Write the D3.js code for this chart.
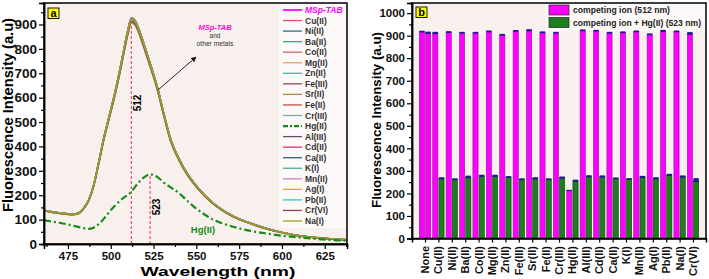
<!DOCTYPE html>
<html>
<head>
<meta charset="utf-8">
<script src="https://cdn.jsdelivr.net/npm/d3@7"></script>
<style>
  body { margin: 0; background: #fff; }
  text { font-family: Arial, "Liberation Sans", sans-serif; }
</style>
</head>
<body>
<script>
"use strict";
// ---- data ----
// panel a: emission spectra
const wavelengths = [461, 465, 470, 475, 478, 481, 484, 487, 490, 493, 496, 499, 502, 505, 508, 510, 512, 514, 516, 520, 523, 527.5, 531, 535, 540, 545, 550, 555, 560, 565, 570, 575, 580, 590, 600, 610, 620, 630, 638]
const probeSpectrum = [138, 132, 127, 123, 122, 126, 145, 178, 240, 335, 435, 520, 605, 700, 805, 872, 920, 912, 884, 802, 737, 633, 532, 427, 346, 284, 237, 198, 166, 140, 119, 102, 89, 65, 47, 34, 26, 20, 17]
const hgSpectrum = [97, 93, 87, 80, 75, 70, 65, 62, 67, 82, 104, 130, 154, 175, 192, 202, 214, 232, 250, 276, 286, 273, 252, 232, 208, 175, 145, 120, 99, 85, 74, 64, 56, 44, 34, 27, 21, 16, 14]
const legendNames = ["MSp-TAB", "Cu(II)", "Ni(II)", "Ba(II)", "Co(II)", "Mg(II)", "Zn(II)", "Fe(III)", "Sr(II)", "Fe(II)", "Cr(III)", "Hg(II)", "Al(III)", "Cd(II)", "Ca(II)", "K(I)", "Mn(II)", "Ag(I)", "Pb(II)", "Cr(VI)", "Na(I)"]
const legendColors = ["#ff00ff", "#e0506a", "#2a6f7f", "#3aa88a", "#d06878", "#d8a860", "#30c0a0", "#a04050", "#a09030", "#c05040", "#80a8b0", "#178a17", "#6a4a6a", "#e0306a", "#306080", "#40b0a0", "#d080c0", "#e0a040", "#30c8c0", "#904050", "#a0a020"]
const peakLines = [512, 523]
const xTicksA = [475, 500, 525, 550, 575, 600, 625]

// panel b: intensity at 512 nm / 523 nm
const ions = ["None", "Cu(II)", "Ni(II)", "Ba(II)", "Co(II)", "Mg(II)", "Zn(II)", "Fe(III)", "Sr(II)", "Fe(II)", "Cr(III)", "Hg(II)", "Al(III)", "Cd(II)", "Ca(II)", "K(I)", "Mn(II)", "Ag(I)", "Pb(II)", "Na(I)", "Cr(VI)"]
const intensity512 = [918, 912, 916, 913, 913, 919, 904, 921, 924, 915, 913, 213, 924, 922, 913, 915, 919, 906, 921, 919, 910]
const error512 = [4, 5, 4, 4, 4, 4, 4, 4, 5, 4, 4, 3, 4, 4, 4, 4, 4, 4, 5, 4, 6]
const intensityHg = [913, 267, 263, 273, 278, 278, 273, 263, 267, 263, 270, 256, 276, 275, 267, 264, 273, 267, 282, 275, 259]
const errorHg = [5, 5, 4, 6, 5, 5, 4, 4, 5, 4, 5, 5, 5, 5, 4, 4, 5, 5, 5, 5, 9]

;(function(){
    const W = 709, H = 279
    const plotBg = "#f7f0ec"
    const svgContainer = d3.select('body').append('svg')
        .attr('width', W)
        .attr('height', H)

    // ---------- panel a ----------
    const a = { left: 44, right: 347, top: 3, bottom: 244 }
    const xA = d3.scaleLinear().domain([461, 638]).range([a.left, a.right])
    const yA = d3.scaleLinear().domain([0, 988]).range([a.bottom, a.top])

    svgContainer.append('rect')
        .attr('x', a.left).attr('y', a.top)
        .attr('width', a.right - a.left).attr('height', a.bottom - a.top)
        .attr('fill', plotBg)

    // legend backdrop
    svgContainer.append('rect')
        .attr('x', 279).attr('y', a.top + 1)
        .attr('width', a.right - 280).attr('height', 224)
        .attr('fill', '#fdf9f8')

    svgContainer.append('clipPath').attr('id', 'clipA')
        .append('rect')
        .attr('x', a.left).attr('y', a.top)
        .attr('width', a.right - a.left).attr('height', a.bottom - a.top)

    const line = d3.line()
        .x((d) => xA(d[0]))
        .y((d) => yA(d[1]))
        .curve(d3.curveMonotoneX)

    const curves = svgContainer.append('g').attr('clip-path', 'url(#clipA)')

    // dashed marker lines at the two emission maxima
    const hgPeak = hgSpectrum[wavelengths.indexOf(523)]
    peakLines.forEach((wl) => {
        const top = wl === 512 ? probeSpectrum[wavelengths.indexOf(512)] : hgPeak
        curves.append('line')
            .attr('x1', xA(wl)).attr('x2', xA(wl))
            .attr('y1', yA(0)).attr('y2', yA(top))
            .attr('stroke', '#e8305a')
            .attr('stroke-width', 1)
            .attr('stroke-dasharray', '3,2')
    })

    // every competing ion: probe spectrum scaled to its 512 nm intensity (panel b)
    legendNames.forEach((name, i) => {
        if (name === "Hg(II)") return
        let factor = 1
        const k = ions.indexOf(name)
        if (k >= 0) factor = intensity512[k] / intensity512[0]
        const pts = wavelengths.map((w, j) => [w, probeSpectrum[j] * factor])
        curves.append('path')
            .attr('d', line(pts))
            .attr('fill', 'none')
            .attr('stroke', legendColors[i])
            .attr('stroke-width', 1.5)
    })

    curves.append('path')
        .attr('d', line(wavelengths.map((w, j) => [w, hgSpectrum[j]])))
        .attr('fill', 'none')
        .attr('stroke', legendColors[legendNames.indexOf("Hg(II)")])
        .attr('stroke-width', 2.2)
        .attr('stroke-dasharray', '7,3,2,3')

    // peak labels
    svgContainer.append('text')
        .attr('transform', `translate(${xA(512) + 10},${103}) rotate(-90)`)
        .attr('text-anchor', 'middle')
        .attr('font-size', 10).attr('font-weight', 'bold')
        .text('512')
    svgContainer.append('text')
        .attr('transform', `translate(${xA(523) + 10},${207}) rotate(-90)`)
        .attr('text-anchor', 'middle')
        .attr('font-size', 10).attr('font-weight', 'bold')
        .text('523')
    svgContainer.append('text')
        .attr('x', 203).attr('y', 233)
        .attr('text-anchor', 'middle')
        .attr('font-size', 9.5).attr('font-weight', 'bold')
        .attr('fill', '#178a17')
        .text('Hg(II)')

    // arrow + note
    svgContainer.append('defs').append('marker')
        .attr('id', 'arrowHead')
        .attr('viewBox', '0 0 10 10')
        .attr('refX', 9).attr('refY', 5)
        .attr('markerWidth', 6).attr('markerHeight', 6)
        .attr('orient', 'auto')
        .append('path')
        .attr('d', 'M0,0 L10,5 L0,10 z')
        .attr('fill', '#111')
    svgContainer.append('line')
        .attr('x1', 158).attr('y1', 90)
        .attr('x2', 196).attr('y2', 57)
        .attr('stroke', '#111')
        .attr('stroke-width', 0.9)
        .attr('marker-end', 'url(#arrowHead)')
    svgContainer.append('text')
        .attr('x', 215).attr('y', 30)
        .attr('text-anchor', 'middle')
        .attr('font-size', 7.5).attr('font-weight', 'bold').attr('font-style', 'italic')
        .attr('fill', '#ee10c8')
        .text('MSp-TAB')
    svgContainer.append('text')
        .attr('x', 215).attr('y', 38)
        .attr('text-anchor', 'middle')
        .attr('font-size', 6.5).attr('fill', '#333')
        .text('and')
    svgContainer.append('text')
        .attr('x', 215).attr('y', 46)
        .attr('text-anchor', 'middle')
        .attr('font-size', 6.7).attr('fill', '#333')
        .text('other metals')

    // legend
    const legA = svgContainer.append('g')
    legendNames.forEach((name, i) => {
        const y = 10 + i * 10.55
        const isHg = name === "Hg(II)"
        legA.append('line')
            .attr('x1', 283).attr('x2', 302)
            .attr('y1', y).attr('y2', y)
            .attr('stroke', legendColors[i])
            .attr('stroke-width', isHg ? 2.2 : (i === 0 ? 1.8 : 1.3))
            .attr('stroke-dasharray', isHg ? '5,2,2,2' : null)
        legA.append('text')
            .attr('x', 305).attr('y', y + 3)
            .attr('font-size', 8.5).attr('font-weight', 'bold')
            .attr('font-style', i === 0 ? 'italic' : 'normal')
            .attr('fill', i === 0 ? '#ff00ff' : '#333')
            .text(name)
    })

    // axes a
    const xAxisA = d3.axisBottom(xA).tickValues(xTicksA).tickSize(5).tickPadding(3)
    const xMinorA = d3.axisBottom(xA).tickValues(d3.range(462.5, 638, 25)).tickSize(3).tickFormat('')
    const yAxisA = d3.axisLeft(yA).tickValues(d3.range(0, 901, 100)).tickSize(5).tickPadding(2)
    const yMinorA = d3.axisLeft(yA).tickValues(d3.range(50, 988, 100)).tickSize(3).tickFormat('')

    const gxA = svgContainer.append('g').attr('transform', `translate(0,${a.bottom})`).call(xAxisA)
    svgContainer.append('g').attr('transform', `translate(0,${a.bottom})`).call(xMinorA)
    const gyA = svgContainer.append('g').attr('transform', `translate(${a.left},0)`).call(yAxisA)
    svgContainer.append('g').attr('transform', `translate(${a.left},0)`).call(yMinorA)
    gxA.selectAll('text').attr('font-size', 11.5).attr('font-weight', 'bold').attr('fill', '#111')
    gyA.selectAll('text').attr('font-size', 13.5).attr('font-weight', 'bold').attr('fill', '#111')

    svgContainer.append('rect')
        .attr('x', a.left).attr('y', a.top)
        .attr('width', a.right - a.left).attr('height', a.bottom - a.top)
        .attr('fill', 'none').attr('stroke', '#000').attr('stroke-width', 1.5)

    svgContainer.append('text')
        .attr('x', 218).attr('y', 276)
        .attr('text-anchor', 'middle')
        .attr('font-size', 13.5).attr('font-weight', 'bold')
        .attr('textLength', 155).attr('lengthAdjust', 'spacingAndGlyphs')
        .text('Wavelength (nm)')
    svgContainer.append('text')
        .attr('transform', `translate(13,115) rotate(-90)`)
        .attr('text-anchor', 'middle')
        .attr('font-size', 14.5).attr('font-weight', 'bold')
        .attr('textLength', 194).attr('lengthAdjust', 'spacingAndGlyphs')
        .text('Fluorescence Intensity (a.u)')

    panelTag(48, 8, 'a')

    // ---------- panel b ----------
    const b = { left: 412, right: 706, top: 3, bottom: 238.5 }
    const xB = d3.scalePoint().domain(ions).range([b.left, b.right]).padding(0.97)
    const yB = d3.scaleLinear().domain([0, 1045]).range([b.bottom, b.top])
    const barW = 5.2

    svgContainer.append('rect')
        .attr('x', b.left).attr('y', b.top)
        .attr('width', b.right - b.left).attr('height', b.bottom - b.top)
        .attr('fill', plotBg)
    svgContainer.append('rect')
        .attr('x', 545).attr('y', b.top + 1)
        .attr('width', b.right - 546).attr('height', 27)
        .attr('fill', '#fdf9f8')

    const bars = svgContainer.append('g')
    ions.forEach((ion, i) => {
        const cx = xB(ion)
        drawBar(bars, cx - barW - 0.5, intensity512[i], error512[i], '#ff00ff', '#8a1a9a')
        const pink = ion === "None"
        drawBar(bars, cx + 0.5, intensityHg[i], errorHg[i], pink ? '#ff00ff' : '#1f7d1f', pink ? '#8a1a9a' : '#0d4a0d')
    })

    function drawBar(g, x, v, e, fill, stroke) {
        g.append('rect')
            .attr('x', x).attr('y', yB(v))
            .attr('width', barW).attr('height', yB(0) - yB(v))
            .attr('fill', fill).attr('stroke', stroke).attr('stroke-width', 0.6)
        g.append('rect')
            .attr('x', x).attr('y', yB(v + e))
            .attr('width', barW).attr('height', yB(v - e) - yB(v + e))
            .attr('fill', '#1c1c90')
    }

    // legend b
    const legB = svgContainer.append('g')
    const legItems = [["competing ion (512 nm)", '#ff00ff', 97], ["competing ion + Hg(II) (523 nm)", '#1f7d1f', 128]]
    legItems.forEach((it, i) => {
        const y = 5 + i * 12.5
        legB.append('rect')
            .attr('x', 549).attr('y', y)
            .attr('width', 20).attr('height', 10)
            .attr('fill', it[1]).attr('stroke', '#222').attr('stroke-width', 0.7)
        legB.append('text')
            .attr('x', 573).attr('y', y + 8)
            .attr('font-size', 9).attr('font-weight', 'bold').attr('fill', '#222')
            .attr('textLength', it[2]).attr('lengthAdjust', 'spacingAndGlyphs')
            .text(it[0])
    })

    const xAxisB = d3.axisBottom(xB).tickSize(4).tickFormat('')
    const yAxisB = d3.axisLeft(yB).tickValues(d3.range(0, 1001, 100)).tickSize(5).tickPadding(2).tickFormat(d3.format('d'))
    const yMinorB = d3.axisLeft(yB).tickValues(d3.range(50, 1045, 100)).tickSize(3).tickFormat('')
    svgContainer.append('g').attr('transform', `translate(0,${b.bottom})`).call(xAxisB)
    const gyB = svgContainer.append('g').attr('transform', `translate(${b.left},0)`).call(yAxisB)
    svgContainer.append('g').attr('transform', `translate(${b.left},0)`).call(yMinorB)
    gyB.selectAll('text').attr('font-size', 11.5).attr('font-weight', 'bold').attr('fill', '#111')

    // rotated category labels
    svgContainer.append('g').selectAll('text')
        .data(ions)
        .enter()
        .append('text')
        .attr('transform', (d) => `translate(${xB(d) + 4},246) rotate(-90)`)
        .attr('text-anchor', 'end')
        .attr('font-size', 11).attr('font-weight', 'bold').attr('fill', '#111')
        .text((d) => d)

    svgContainer.append('rect')
        .attr('x', b.left).attr('y', b.top)
        .attr('width', b.right - b.left).attr('height', b.bottom - b.top)
        .attr('fill', 'none').attr('stroke', '#000').attr('stroke-width', 1.5)

    svgContainer.append('text')
        .attr('transform', `translate(381,120) rotate(-90)`)
        .attr('text-anchor', 'middle')
        .attr('font-size', 13.5).attr('font-weight', 'bold')
        .attr('textLength', 176).attr('lengthAdjust', 'spacingAndGlyphs')
        .text('Fluorescence Intensity (a.u)')

    panelTag(416, 7, 'b')

    // all axis lines in black, slightly heavier
    svgContainer.selectAll('.domain').attr('stroke', '#000').attr('stroke-width', 1.5)
    svgContainer.selectAll('.tick line').attr('stroke', '#000').attr('stroke-width', 1.2)

    function panelTag(x, y, letter) {
        svgContainer.append('rect')
            .attr('x', x).attr('y', y)
            .attr('width', 11).attr('height', 10.5)
            .attr('fill', '#ffff00').attr('stroke', '#000').attr('stroke-width', 0.9)
        svgContainer.append('text')
            .attr('x', x + 5.5).attr('y', y + 8.7)
            .attr('text-anchor', 'middle')
            .attr('font-size', 11).attr('font-weight', 'bold')
            .text(letter)
    }
})()
</script>
</body>
</html>
